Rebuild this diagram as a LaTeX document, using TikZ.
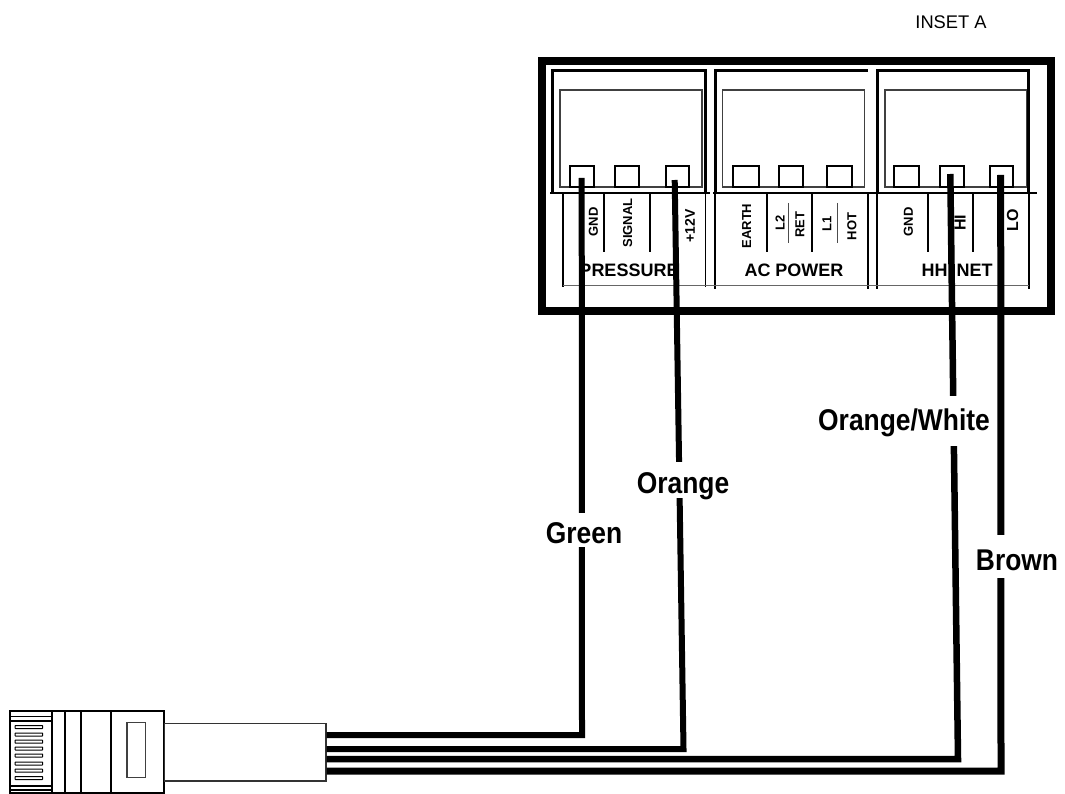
\documentclass[tikz,border=0pt]{standalone}
\usepackage{fontspec}
\setmainfont{Liberation Sans}
\newfontfamily\narrowfont[FakeStretch=0.88]{Liberation Sans}
\tikzset{
	frameline/.style={line width=8pt,line join=miter},
	panelline/.style={line width=3pt},
	thinline/.style={line width=1.6pt},
	innerbox/.style={draw=black!75,line width=1.2pt},
	terminal/.style={draw,line width=1.6pt},
	wire/.style={line width=6pt,line join=miter},
	tag/.style={font=\bfseries\fontsize{13}{13}\selectfont,rotate=90,inner sep=0pt},
	group/.style={font=\bfseries\fontsize{18}{18}\selectfont,inner sep=0pt},
	colour/.style={font=\narrowfont\bfseries\fontsize{30}{30}\selectfont,fill=white,inner xsep=1pt,inner ysep=0pt,anchor=base},
	slot/.style={draw,line width=1pt,fill=white,rounded corners=.5pt}
}
\begin{document}
\begin{tikzpicture}[x=1pt,y=-1pt]
\useasboundingbox (0,0) rectangle (1065,794);
\node (inset) at (951,22) {\fontsize{18.3}{18}\selectfont INSET A};
\draw [frameline] (542,61) rectangle (1051,311);
% panels
\draw [panelline] (552.5,193) -- (552.5,70.5) -- (705.5,70.5) -- (705.5,193);
\draw [panelline] (715,193) -- (715,70.5) -- (868,70.5);
\draw [panelline] (877,193) -- (877,70.5) -- (1028.7,70.5) -- (1028.7,193);
\draw [innerbox] (560,90) rectangle (702,187);
\draw [innerbox] (722.7,90) rectangle (864.7,187);
\draw [innerbox] (885,90) rectangle (1026.7,187);
\draw [thinline] (550,193) -- (710,193);
\draw [thinline] (713,193) -- (875,193);
\draw [thinline] (875,193) -- (1036.7,193);
\draw [terminal] (570,187) rectangle (594,166);
\draw [terminal] (615,187) rectangle (639,166);
\draw [terminal] (666,187) rectangle (689,166);
\draw [terminal] (733,187) rectangle (759,166);
\draw [terminal] (779,187) rectangle (803,166);
\draw [terminal] (827,187) rectangle (852,166);
\draw [terminal] (894,187) rectangle (919,166);
\draw [terminal] (940,187) rectangle (964,166);
\draw [terminal] (990,187) rectangle (1013,166);
% dividers under the terminals
\draw [thinline] (563,193) -- (563,287);
\draw [thinline] (604,193) -- (604,252);
\draw [thinline] (650,193) -- (650,252);
\draw [thinline] (705.5,193) -- (705.5,287);
\draw [thinline] (715,193) -- (715,289);
\draw [thinline] (767,193) -- (767,252);
\draw [thinline] (812,193) -- (812,252);
\draw [thinline] (868,193) -- (868,289);
\draw [thinline] (877,193) -- (877,289);
\draw [thinline] (928,193) -- (928,252);
\draw [thinline] (973,193) -- (973,252);
\draw [thinline] (1029,193) -- (1029,289);
\draw [draw=black!60,line width=1pt] (563,286) -- (1029,286);
\draw [draw=black!70,line width=.8pt] (788,203) -- (788,243);
\draw [draw=black!70,line width=.8pt] (837,203) -- (837,243);
\node [tag] (gnda) at (593.3,222) {GND};
\node [tag] (signal) at (627.7,223) {SIGNAL};
\node [tag,font=\bfseries\fontsize{14}{14}\selectfont] (plus) at (690,226) {+12V};
\node [tag] (earth) at (746.7,226) {EARTH};
\node [tag] (ltwo) at (780,223) {L2};
\node [tag] (ret) at (800,225) {RET};
\node [tag] (lone) at (827,224) {L1};
\node [tag] (hot) at (852,226.5) {HOT};
\node [tag] (gndb) at (908.3,222) {GND};
\node [tag,font=\bfseries\fontsize{16}{16}\selectfont] (hi) at (960,223) {HI};
\node [tag,font=\bfseries\fontsize{16}{16}\selectfont] (lo) at (1012.7,220) {LO};
\node [group] (pressure) at (629,270) {PRESSURE};
\node [group] (acpower) at (794,270) {AC POWER};
\node [group] (hhnet) at (957,270.5) {HH\hspace{9pt}NET};
% plug
\draw [line width=2pt] (10,711) rectangle (164,793);
\draw [line width=2pt] (52,711) -- (52,793);
\draw [line width=1.6pt] (65,711) -- (65,793);
\draw [line width=1.6pt] (81,711) -- (81,793);
\draw [line width=1.6pt] (110.7,711) -- (110.7,793);
\draw [line width=1.2pt] (10,716.7) -- (52,716.7);
\draw [line width=2pt] (10,720.7) -- (52,720.7);
\draw [line width=2pt] (10,786) -- (52,786);
\draw [line width=1.2pt] (10,790) -- (52,790);
\draw [slot] (15,725.5) rectangle (42.7,728.5);
\draw [slot] (15,733) rectangle (42.7,736);
\draw [slot] (15,740.2) rectangle (42.7,743.2);
\draw [slot] (15,747) rectangle (42.7,750);
\draw [slot] (15,754) rectangle (42.7,757);
\draw [slot] (15,762) rectangle (42.7,765);
\draw [slot] (15,769.2) rectangle (42.7,772.2);
\draw [slot] (15,776.5) rectangle (42.7,779.5);
\draw [innerbox] (127,722.7) rectangle (145.3,777.3);
\node [draw=black!80,line width=1.2pt,minimum width=161.3pt,minimum height=57.6pt,inner sep=0pt,anchor=north west] (cable) at (164,722.7) {};
% wires
\coordinate (greentop) at (581.7,178);
\coordinate (greenbend) at (582,735);
\coordinate (greenend) at (cable.east |- greenbend);
\coordinate (orangetop) at (674.7,180);
\coordinate (orangebend) at (683.5,749);
\coordinate (orangeend) at (cable.east |- orangebend);
\coordinate (whitetop) at (950.3,174);
\coordinate (whitebend) at (958,759);
\coordinate (whiteend) at (cable.east |- whitebend);
\coordinate (browntop) at (1000.7,175);
\coordinate (brownbend) at (1001,771);
\coordinate (brownend) at (cable.east |- brownbend);
\draw [wire] (greentop) -- (greenbend) -- (greenend);
\draw [wire] (orangetop) -- (orangebend) -- (orangeend);
\draw [wire,line width=6.5pt] (whitetop) -- (whitebend) -- (whiteend);
\draw [wire,line width=7pt] (browntop) -- (brownbend) -- (brownend);
\node [colour,text height=30pt,text depth=4pt] (green) at (584,543) {Green};
\node [colour,text height=31pt,text depth=5pt] (orange) at (683,493) {Orange};
\node [colour,text height=34pt,text depth=16pt] (orangewhite) at (904,430) {Orange/White};
\node [colour,text height=35pt,text depth=8pt] (brown) at (1017,570) {Brown};
\end{tikzpicture}
\end{document}
